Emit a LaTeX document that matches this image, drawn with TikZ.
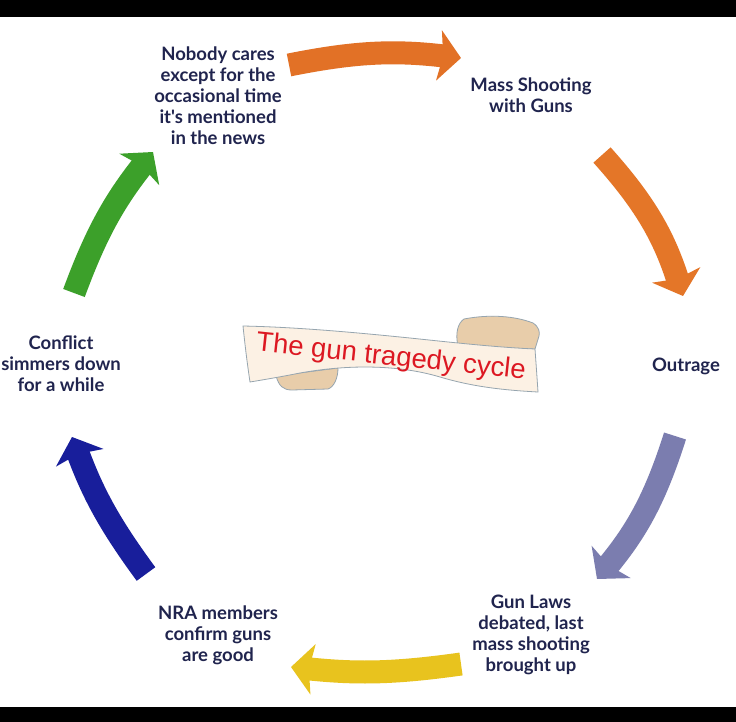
\documentclass[tikz,border=0pt]{standalone}
\usepackage{fontspec}
\setmainfont{Lato}[Ligatures=TeXOff]
\newfontfamily\titlefont{Liberation Sans}
\usetikzlibrary{arrows.meta}
\definecolor{navy}{RGB}{32,36,78}
\definecolor{orA}{RGB}{226,113,38}
\definecolor{orB}{RGB}{228,118,40}
\definecolor{purp}{RGB}{123,125,175}
\definecolor{yel}{RGB}{232,195,30}
\definecolor{blu}{RGB}{24,30,155}
\definecolor{grn}{RGB}{60,160,42}
\definecolor{cream}{RGB}{252,241,228}
\definecolor{tan}{RGB}{232,205,170}
\definecolor{edge}{RGB}{150,165,175}
\definecolor{titred}{RGB}{220,24,34}
\begin{document}
\begin{tikzpicture}[x=1pt,y=-1pt,
  lbl/.style={text=navy,font=\bfseries\fontsize{18.5}{21}\selectfont,align=center,inner sep=0pt},
  cyc/.style={line width=23pt,-{Stealth[length=22pt,width=50pt,inset=4pt]}}]
\useasboundingbox (0,0) rectangle (736,722);
\fill[white] (0,0) rectangle (736,722);
\fill[black] (0,0) rectangle (736,17);
\fill[black] (0,707) rectangle (736,722);

% labels
\node[lbl] (t1) at (218,96) {Nobody cares\\except for the\\occasional time\\it's mentioned\\in the news};
\node[lbl] (t2) at (531,95) {Mass Shooting\\with Guns};
\node[lbl] (t3) at (686,366) {Outrage};
\node[lbl] (t4) at (531,635) {Gun Laws\\debated, last\\mass shooting\\brought up};
\node[lbl] (t5) at (218,635) {NRA members\\confirm guns\\are good};
\node[lbl] (t6) at (61,364) {Conflict\\simmers down\\for a while};

% arrow ends
\coordinate (a1s) at (289,65);  \coordinate (a1e) at (461,58);
\coordinate (a2s) at (602,155); \coordinate (a2e) at (683,296);
\coordinate (a3s) at (675,436); \coordinate (a3e) at (597,579);
\coordinate (a4s) at (461,664); \coordinate (a4e) at (291,667);
\coordinate (a5s) at (146,574); \coordinate (a5e) at (72,437);
\coordinate (a6s) at (74,293);  \coordinate (a6e) at (153,152);

\draw[cyc,draw=orA,fill=orA] (a1s) to[bend left=9] (a1e);
\draw[cyc,draw=orB,fill=orB] (a2s) to[bend left=12] (a2e);
\draw[cyc,draw=purp,fill=purp] (a3s) to[bend left=11] (a3e);
\draw[cyc,draw=yel,fill=yel] (a4s) to[bend left=7] (a4e);
\draw[cyc,draw=blu,fill=blu] (a5s) to[bend left=8] (a5e);
\draw[cyc,draw=grn,fill=grn] (a6s) to[bend left=9] (a6e);

% banner
\begin{scope}[draw=edge,line width=0.8pt,line join=round]
  % back curl bottom-left
  \filldraw[fill=tan] (276,376) .. controls (279,386) and (283,390) .. (292,390)
     -- (328,389) .. controls (334,387) and (338,378) .. (338,368) -- cycle;
  % back curl top-right
  \filldraw[fill=tan] (458,346) .. controls (455,333) and (458,323) .. (464,319)
     .. controls (490,314) and (515,316) .. (533,323)
     .. controls (539,327) and (540,332) .. (539,336) -- (535,349) -- cycle;
  % front band
  \filldraw[fill=cream] (243,326) .. controls (290,327) and (340,331) .. (400,337)
     .. controls (440,341) and (490,347) .. (535,349)
     .. controls (536,363) and (537,377) .. (538,392)
     .. controls (500,390) and (470,386) .. (440,377)
     .. controls (400,365) and (350,364) .. (300,373)
     .. controls (280,377) and (262,380) .. (250,382)
     .. controls (247,362) and (245,345) .. (243,326) -- cycle;
\end{scope}
\node[text=titred,font=\titlefont\fontsize{27.5}{30}\selectfont,rotate=-6,inner sep=0pt] (title) at (391,358) {The gun tragedy cycle};
\end{tikzpicture}
\end{document}
